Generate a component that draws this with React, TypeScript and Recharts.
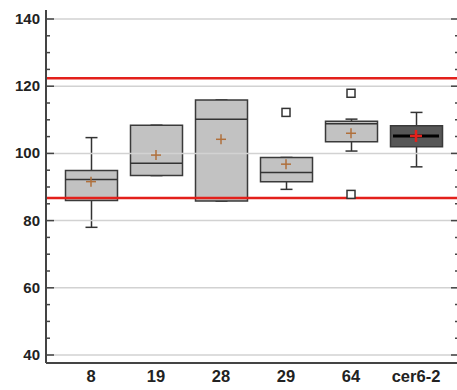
import { ComposedChart, Bar, Cell, Scatter, XAxis, YAxis, ReferenceLine } from "recharts";

const categories = ["8", "19", "28", "29", "64", "cer6-2"];
const lowWhisker = [78, 93.4, 85.8, 89.3, 100.7, 96];
const q1 = [86.0, 93.4, 85.8, 91.6, 103.5, 102];
const median = [92.2, 97.1, 110.2, 94.3, 108.8, 105.2];
const q3 = [94.9, 108.4, 115.9, 98.8, 109.6, 108.2];
const highWhisker = [104.7, 108.4, 115.9, 98.8, 110.2, 112.2];
const mean = [91.6, 99.5, 104.2, 96.8, 106, 105.2];

const outlierCats = [3, 4, 4];
const outlierValues = [112.2, 117.9, 87.8];

const limitLines = [122.4, 86.7];
const gridValues = [40, 60, 80, 100, 120, 140];
const yTicks = [40, 45, 50, 55, 60, 65, 70, 75, 80, 85, 90, 95, 100, 105, 110, 115, 120, 125, 130, 135, 140];
const xTicks = [0, 1, 2, 3, 4, 5];

const X_DOMAIN = [-0.6923, 5.646];
const Y_DOMAIN = [37.62, 142.68];
const BOX_W = 52;
const HIGHLIGHT = "cer6-2";

const rows = categories.map((name, i) => ({
  idx: i,
  name,
  box: [q1[i], q3[i]],
  whisker: [lowWhisker[i], highWhisker[i]],
  median: median[i],
  mean: mean[i],
}));

const outliers = outlierCats.map((c, i) => ({ idx: c, value: outlierValues[i] }));

const axisColor = "#444";
const labelFont = { fontFamily: "Liberation Sans, Arial, sans-serif", fontWeight: 700, fill: "#222" };

function LeftTick(props: any) {
  const { x, y, payload } = props;
  const major = payload.value % 20 === 0;
  const ax = x + 6;
  return (
    <g>
      <line x1={ax} x2={ax + (major ? 8 : 4)} y1={y} y2={y} stroke={axisColor} strokeWidth={1.5} />
      {major && (
        <text x={x} y={y} dy={5} textAnchor="end" fontSize={15} {...labelFont}>
          {payload.value}
        </text>
      )}
    </g>
  );
}

function RightTick(props: any) {
  const { x, y, payload } = props;
  const major = payload.value % 20 === 0;
  return <line x1={x} x2={x - (major ? 7 : 3)} y1={y} y2={y} stroke={axisColor} strokeWidth={1.5} />;
}

function BottomTick(props: any) {
  const { x, y, payload } = props;
  return (
    <text x={x} y={y} dy={16} textAnchor="middle" fontSize={16.5} {...labelFont}>
      {categories[payload.value]}
    </text>
  );
}

function WhiskerShape(props: any) {
  const { x, y, width, height } = props;
  const cx = x + width / 2;
  return (
    <g stroke="#333" strokeWidth={1.5}>
      <line x1={cx} x2={cx} y1={y} y2={y + height} />
      <line x1={x} x2={x + width} y1={y} y2={y} />
      <line x1={x} x2={x + width} y1={y + height} y2={y + height} />
    </g>
  );
}

function MedianShape(props: any) {
  const { cx, cy, payload } = props;
  const hi = payload.name === HIGHLIGHT;
  return (
    <line
      x1={cx - BOX_W / 2 + (hi ? 3 : 0)}
      x2={cx + BOX_W / 2 - (hi ? 3 : 0)}
      y1={cy}
      y2={cy}
      stroke={hi ? "#000" : "#333"}
      strokeWidth={hi ? 3 : 1.5}
    />
  );
}

function MeanShape(props: any) {
  const { cx, cy, payload } = props;
  const hi = payload.name === HIGHLIGHT;
  const s = hi ? 6 : 5;
  const c = hi ? "#e3201b" : "#b0703c";
  return (
    <g stroke={c} strokeWidth={hi ? 2.5 : 1.5}>
      <line x1={cx - s} x2={cx + s} y1={cy} y2={cy} />
      <line x1={cx} x2={cx} y1={cy - s} y2={cy + s} />
    </g>
  );
}

function OutlierShape(props: any) {
  const { cx, cy } = props;
  return <rect x={cx - 4} y={cy - 4} width={8} height={8} fill="#fff" stroke="#333" strokeWidth={1.5} />;
}

export default function App() {
  return (
    <div style={{ position: "absolute", left: 0, top: 0, width: 457, height: 390, overflow: "hidden", background: "#fff" }}>
      <ComposedChart width={460} height={390} data={rows} margin={{ top: 10, right: 0, bottom: 0, left: 0 }}>
        <XAxis
          dataKey="idx"
          type="number"
          domain={X_DOMAIN}
          ticks={xTicks}
          allowDataOverflow
          height={27}
          tickLine={false}
          tickSize={0}
          tickMargin={3}
          axisLine={{ stroke: axisColor, strokeWidth: 2 }}
          tick={<BottomTick />}
          interval={0}
        />
        <XAxis xAxisId="w" dataKey="idx" type="number" domain={X_DOMAIN} ticks={xTicks} allowDataOverflow hide />
        <XAxis
          xAxisId="top"
          orientation="top"
          dataKey="idx"
          type="number"
          domain={X_DOMAIN}
          allowDataOverflow
          height={0}
          tick={false}
          tickLine={false}
          axisLine={{ stroke: "#555", strokeWidth: 2 }}
        />
        <YAxis
          type="number"
          domain={Y_DOMAIN}
          ticks={yTicks}
          allowDataOverflow
          width={46}
          tickSize={0}
          tickMargin={6}
          tickLine={false}
          interval={0}
          axisLine={{ stroke: axisColor, strokeWidth: 2 }}
          tick={<LeftTick />}
        />
        <YAxis
          yAxisId="r"
          orientation="right"
          type="number"
          domain={Y_DOMAIN}
          ticks={yTicks}
          allowDataOverflow
          width={2}
          tickSize={0}
          tickMargin={0}
          tickLine={false}
          interval={0}
          axisLine={{ stroke: axisColor, strokeWidth: 2 }}
          tick={<RightTick />}
        />

        {gridValues.map((v) => (
          <ReferenceLine key={"g" + v} y={v} stroke="#d2d2d2" strokeWidth={1.5} />
        ))}

        <Bar xAxisId="w" dataKey="whisker" barSize={12} shape={<WhiskerShape />} isAnimationActive={false} />
        <Bar dataKey="box" barSize={BOX_W} stroke="#3a3a3a" strokeWidth={1.5} isAnimationActive={false}>
          {rows.map((r) => (
            <Cell key={r.name} fill={r.name === HIGHLIGHT ? "#575757" : "#c2c2c2"} />
          ))}
        </Bar>
        <Scatter data={rows} dataKey="median" shape={<MedianShape />} isAnimationActive={false} />
        <Scatter data={rows} dataKey="mean" shape={<MeanShape />} isAnimationActive={false} />
        <Scatter data={outliers} dataKey="value" shape={<OutlierShape />} isAnimationActive={false} />

        {limitLines.map((v) => (
          <ReferenceLine key={"l" + v} y={v} stroke="#e3201b" strokeWidth={2.5} />
        ))}
      </ComposedChart>
    </div>
  );
}
